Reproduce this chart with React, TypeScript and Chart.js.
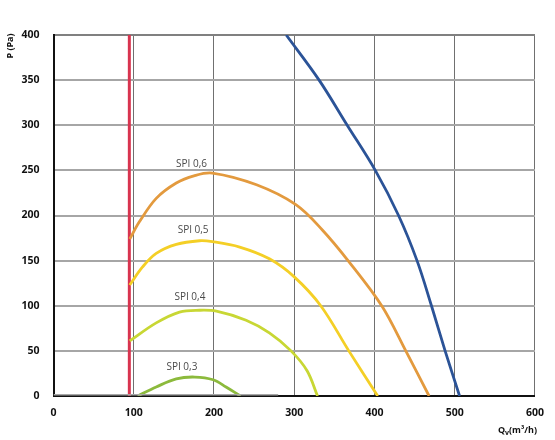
import { useEffect, useRef } from 'react'
import { Chart, registerables } from 'chart.js'

Chart.register(...registerables)

// curves: airflow Qv (m³/h) and pressure P (Pa)
const fanQ = [290, 331, 366, 401, 430, 453, 471, 488, 506]
const fanP = [400, 350, 300, 250, 200, 150, 100, 50, 0]

const spi06Q = [95, 107, 128, 153, 175, 198, 253, 302, 335, 368, 409, 439, 468]
const spi06P = [174, 193, 219, 236, 244, 247, 234, 212, 184, 149, 100, 50, 0]

const spi05Q = [95, 111, 128, 153, 182, 198, 232, 269, 300, 333, 368, 404]
const spi05P = [123, 143, 158, 168, 172, 171, 165, 152, 132, 100, 50, 0]

const spi04Q = [95, 128, 157, 182, 203, 240, 269, 296, 316, 329]
const spi04P = [61, 81, 93, 95, 94, 84, 70, 50, 28, 0]

const spi03Q = [105, 128, 153, 176, 199, 215, 233]
const spi03P = [0, 10, 19, 21, 18, 10, 0]

const limitQ = [94.5, 94.5]
const limitP = [0, 400]

const baseQ = [0, 280]
const baseP = [1.5, 1.5]

const spiLabels = ['SPI 0,6', 'SPI 0,5', 'SPI 0,4', 'SPI 0,3']
const spiLabelQ = [172, 174, 170, 160]
const spiLabelP = [257, 184, 110, 32]

const pts = (xs: number[], ys: number[]) => xs.map((x, i) => ({ x, y: ys[i] }))

const FONT = "'Open Sans', 'DejaVu Sans', sans-serif"

export default function App() {
  const canvasRef = useRef<HTMLCanvasElement>(null)

  useEffect(() => {
    if (!canvasRef.current) return
    const ctx = canvasRef.current.getContext('2d')!

    const line = (data: { x: number; y: number }[], color: string, width = 2.8) => ({
      data,
      borderColor: color,
      backgroundColor: color,
      borderWidth: width,
      showLine: true,
      pointRadius: 0,
      tension: 0.35,
      fill: false,
    })

    const annotations = {
      id: 'annotations',
      afterDatasetsDraw(chart: any) {
        const c = chart.ctx
        const { x, y } = chart.scales
        c.save()
        c.fillStyle = '#4a4a4a'
        c.font = `10px ${FONT}`
        c.textAlign = 'center'
        c.textBaseline = 'middle'
        spiLabels.forEach((t, i) => {
          c.fillText(t, x.getPixelForValue(spiLabelQ[i]), y.getPixelForValue(spiLabelP[i]))
        })
        // y axis title
        c.fillStyle = '#111'
        c.font = `bold 9px ${FONT}`
        c.translate(10, 46)
        c.rotate(-Math.PI / 2)
        c.textAlign = 'center'
        c.fillText('P (Pa)', 0, 0)
        c.restore()

        // x axis title Qv(m³/h)
        c.save()
        c.fillStyle = '#111'
        c.textBaseline = 'middle'
        c.textAlign = 'left'
        const right = 537
        c.font = `bold 9px ${FONT}`
        const rest = '(m³/h)'
        const wRest = c.measureText(rest).width
        c.font = `bold 7px ${FONT}`
        const wSub = c.measureText('v').width
        c.font = `bold 9px ${FONT}`
        const wQ = c.measureText('Q').width
        let px = right - wRest - wSub - wQ
        c.fillText('Q', px, 430)
        px += wQ
        c.font = `bold 7px ${FONT}`
        c.fillText('v', px, 433)
        px += wSub
        c.font = `bold 9px ${FONT}`
        c.fillText(rest, px, 430)
        c.restore()
      },
    }

    const chart = new Chart(ctx, {
      type: 'scatter',
      plugins: [annotations],
      data: {
        datasets: [
          line(pts(baseQ, baseP), '#a8a8a8', 1.5),
          line(pts(spi03Q, spi03P), '#8cba3c'),
          line(pts(spi04Q, spi04P), '#c8d734'),
          line(pts(spi05Q, spi05P), '#f4cf26'),
          line(pts(spi06Q, spi06P), '#e39a3e'),
          line(pts(fanQ, fanP), '#2b5397'),
          { ...line(pts(limitQ, limitP), '#d8344f', 3), tension: 0 },
        ],
      },
      options: {
        responsive: true,
        maintainAspectRatio: false,
        animation: false,
        layout: { padding: { top: 35, right: 19, left: 0, bottom: 0 } },
        plugins: {
          legend: { display: false },
          tooltip: { enabled: false },
        },
        scales: {
          x: {
            type: 'linear',
            min: 0,
            max: 600,
            afterFit: (s: any) => { s.height = 44 },
            border: { color: '#111', width: 2 },
            grid: {
              color: '#707070',
              lineWidth: 1,
              drawTicks: false,
            },
            ticks: {
              stepSize: 100,
              color: '#111',
              padding: 11,
              font: { family: FONT, size: 10.5, weight: 'bold' },
            },
          },
          y: {
            type: 'linear',
            min: 0,
            max: 400,
            afterFit: (s: any) => { s.width = 53.5 },
            border: { color: '#111', width: 2 },
            grid: {
              color: (c: any) => (c.tick && c.tick.value === 400 ? '#808080' : '#a6a6a6'),
              lineWidth: 2,
              drawTicks: false,
            },
            ticks: {
              stepSize: 50,
              color: '#111',
              padding: 14,
              font: { family: FONT, size: 10.5, weight: 'bold' },
            },
          },
        },
      } as any,
    })

    return () => { chart.destroy() }
  }, [])

  return (
    <div style={{ position: 'fixed', left: 0, top: 0, width: 555, height: 440, background: '#fff' }}>
      <canvas ref={canvasRef} />
    </div>
  )
}
